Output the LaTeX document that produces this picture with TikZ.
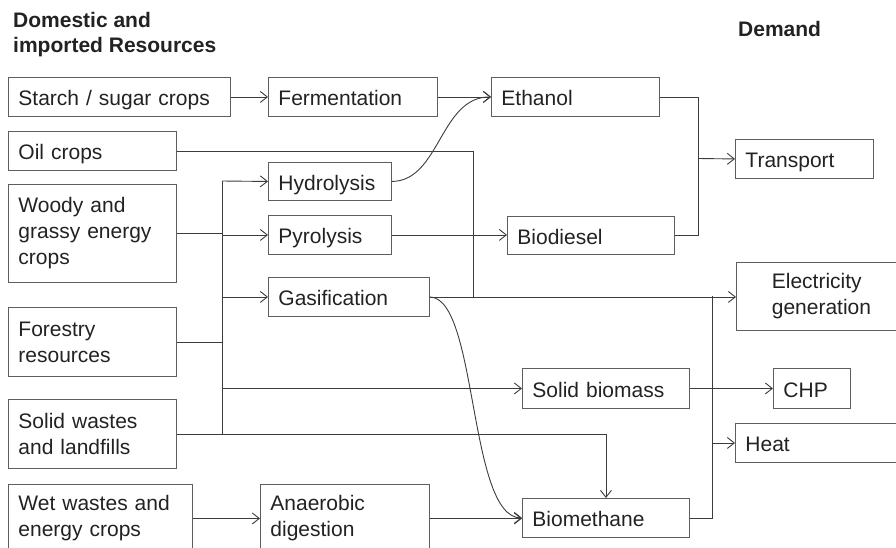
\documentclass[tikz,border=0pt]{standalone}
\usepackage{fontspec}
\setmainfont{Liberation Sans}
\usetikzlibrary{arrows.meta}
\definecolor{boxcol}{HTML}{5E5E5E}
\definecolor{linecol}{HTML}{3C3C3C}
\definecolor{txtcol}{HTML}{222222}
\begin{document}
\begin{tikzpicture}[x=1pt,y=-1pt,
  box/.style={draw=boxcol, line width=0.9pt, anchor=north west, inner xsep=10pt, inner ysep=0pt, align=left, font=\fontsize{21}{26}\selectfont, text=txtcol},
  one/.style={text height=17.5pt, text depth=0pt},
  conn/.style={draw=linecol, line width=0.9pt},
  arr/.style={conn, -{Straight Barb[length=7pt,width=11pt]}},
  head/.style={anchor=north west, inner sep=0pt, align=left, font=\fontsize{21}{25}\selectfont\bfseries, text=txtcol}]
\useasboundingbox (0,0) rectangle (896,547);
\clip (0,0) rectangle (896,547);

% headings
\node[head] (h1) at (13,12.5) {Domestic and\\imported Resources};
\node[head] (dem) at (738,21.5) {Demand};

% resources
\node[box, one, text width=202pt, minimum height=39pt] (starch) at (8,77) {Starch / sugar crops};
\node[box, one, text width=148pt, minimum height=39pt] (oil) at (8,131) {Oil crops};
\node[box, text width=148pt, minimum height=98pt] (woody) at (8,184) {Woody and\\grassy energy\\crops};
\node[box, text width=148pt, minimum height=69pt] (forestry) at (8,307) {Forestry\\resources};
\node[box, text width=148pt, minimum height=69pt] (sw) at (8,399) {Solid wastes\\and landfills};
\node[box, text width=164pt, minimum height=68pt] (wet) at (8,484) {Wet wastes and\\energy crops};

% processes
\node[box, one, text width=149pt, minimum height=39pt] (ferm) at (268,77) {Fermentation};
\node[box, one, text width=103pt, minimum height=38pt] (hydro) at (268,162) {Hydrolysis};
\node[box, one, text width=103pt, minimum height=39pt] (pyro) at (268,215) {Pyrolysis};
\node[box, one, text width=141pt, minimum height=39pt] (gas) at (268,277) {Gasification};
\node[box, text width=149pt, minimum height=68pt] (anaer) at (260,484) {Anaerobic\\digestion};

% products
\node[box, one, text width=148pt, minimum height=39pt] (eth) at (491,77) {Ethanol};
\node[box, one, text width=147pt, minimum height=38pt] (biod) at (507,216) {Biodiesel};
\node[box, one, text width=147pt, minimum height=40pt] (solidb) at (522,368) {Solid biomass};
\node[box, one, text width=147pt, minimum height=39pt] (biometh) at (522,498) {Biomethane};

% demand
\node[box, one, text width=118pt, minimum height=39pt] (transport) at (735,139) {Transport};
\node[box, minimum width=170pt, minimum height=68pt] (elec) at (736,262) {Electricity\\generation};
\node[box, one, text width=57pt, minimum height=40pt] (chp) at (773,368) {CHP};
\node[box, one, text width=150pt, minimum height=39pt] (heat) at (735,423) {Heat};

% junction coordinates
\coordinate (bustop) at (222,181);
\coordinate (busbot) at (222,433.5);
\coordinate (oilj) at (473,296.5);
\coordinate (tj) at (698,158.5);
\coordinate (ctop) at (712,296);

% connectors
\draw[arr] (starch.east) -- (ferm.west);
\draw[arr] (ferm.east) -- (eth.west);
\draw[arr] (hydro.east) .. controls (440,181) and (440,96.5) .. (eth.west);

\draw[conn] (oil.east) -| (oilj);

\draw[conn] (bustop) -- (busbot);
\draw[arr] (bustop) -- (hydro.west);
\draw[conn] (woody.east) -- (woody.east -| bustop);
\draw[arr] (pyro.west -| bustop) -- (pyro.west);
\draw[arr] (gas.west -| bustop) -- (gas.west);
\draw[conn] (forestry.east) -- (forestry.east -| bustop);
\draw[arr] (solidb.west -| bustop) -- (solidb.west);
\draw[arr] (sw.east) -| (biometh.north);

\draw[arr] (pyro.east) -- (pyro.east -| biod.west);
\draw[arr] (gas.east) -- (gas.east -| elec.west);
\draw[arr] (gas.east) .. controls (478,298) and (468,517.5) .. (biometh.west);
\draw[arr] (wet.east) -- (wet.east -| anaer.west);
\draw[arr] (anaer.east) -- (anaer.east -| biometh.west);

\draw[conn] (eth.east) -| (tj);
\draw[conn] (biod.east) -| (tj);
\draw[arr] (tj) -- (transport.west);

\draw[conn] (biometh.east) -| (ctop);
\draw[arr] (solidb.east) -- (chp.west);
\draw[arr] (heat.west -| ctop) -- (heat.west);
\end{tikzpicture}
\end{document}
